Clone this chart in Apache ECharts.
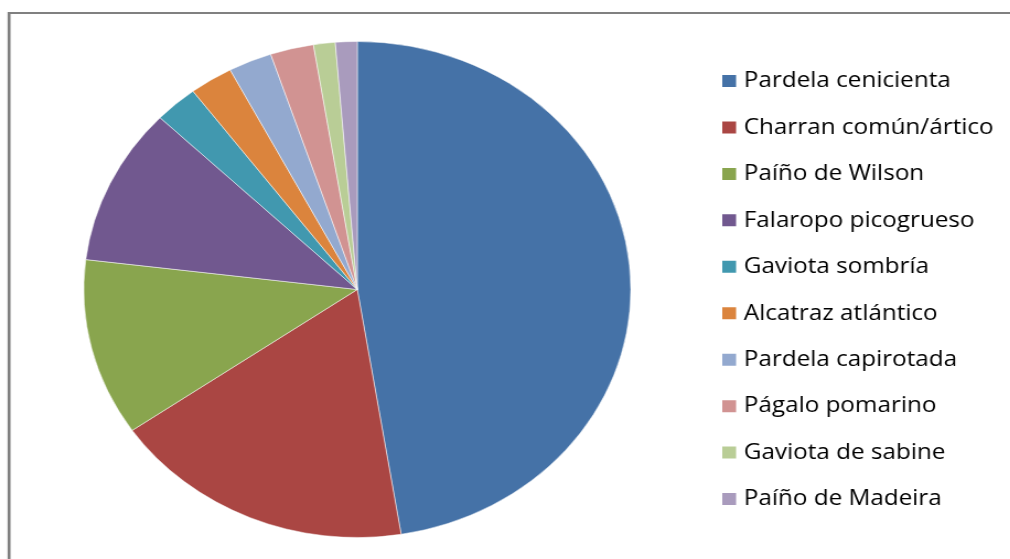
<!DOCTYPE html>
<html>
<head>
<meta charset="utf-8">
<style>
  html, body { margin: 0; padding: 0; background: #fff; overflow: hidden; }
  #wrap { width: 1010px; height: 559px; overflow: hidden; position: relative; }
  #chart { width: 916px; height: 559px; transform: scaleX(1.1027); transform-origin: 0 0; }
</style>
<script src="https://cdn.jsdelivr.net/npm/echarts@6/dist/echarts.min.js"></script>
</head>
<body>
<div id="wrap"><div id="chart"></div></div>
<script>
const categories = [
  'Pardela cenicienta',
  'Charran común/ártico',
  'Paíño de Wilson',
  'Falaropo picogrueso',
  'Gaviota sombría',
  'Alcatraz atlántico',
  'Pardela capirotada',
  'Págalo pomarino',
  'Gaviota de sabine',
  'Paíño de Madeira'
];
const values = [37, 14, 9, 8, 2, 2, 2, 2, 1, 1];
const colors = ['#4572A7', '#AA4643', '#89A54E', '#71588F', '#4198AF', '#DB843D', '#93A9CF', '#D19392', '#B9CD96', '#A99BBD'];

const chart = echarts.init(document.getElementById('chart'), null, { renderer: 'canvas' });
chart.setOption({
  animation: false,
  backgroundColor: '#fff',
  color: colors,
  legend: {
    orient: 'vertical',
    left: 653,
    top: 69,
    padding: 0,
    itemWidth: 14.5,
    itemHeight: 14,
    itemGap: 22.45,
    icon: 'rect',
    textStyle: { fontFamily: 'Open Sans', fontSize: 22, color: '#000', lineHeight: 24, padding: [0, 0, 0, 1] },
    data: categories
  },
  graphic: [
    { type: 'line', shape: { x1: 7, y1: 13, x2: 1000, y2: 13 }, style: { stroke: '#808080', lineWidth: 2 } },
    { type: 'line', shape: { x1: 8.2, y1: 12, x2: 8.2, y2: 600 }, style: { stroke: '#808080', lineWidth: 2.7 } }
  ],
  series: [{
    type: 'pie',
    center: [324, 289.5],
    radius: [0, 248],
    startAngle: 90,
    clockwise: true,
    label: { show: false },
    labelLine: { show: false },
    emphasis: { disabled: true },
    itemStyle: { borderColor: '#fff', borderWidth: 0.5 },
    data: categories.map((c, i) => ({ name: c, value: values[i] }))
  }]
});
</script>
</body>
</html>
